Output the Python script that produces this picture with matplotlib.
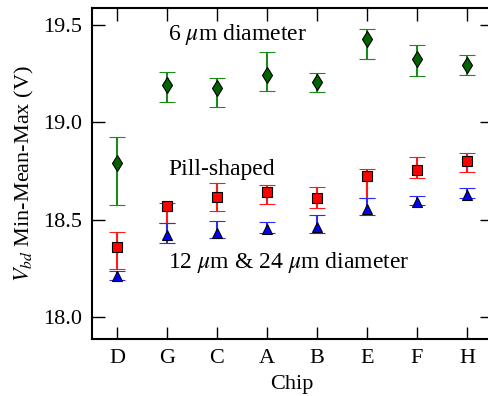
import matplotlib
matplotlib.use("Agg")
import matplotlib.pyplot as plt

plt.rcParams["font.family"] = ["Liberation Serif", "DejaVu Serif"]
plt.rcParams["mathtext.fontset"] = "stix"

chips = ["D", "G", "C", "A", "B", "E", "F", "H"]

# 6 um diameter: mean, min, max
small_mean = [18.79, 19.19, 19.177, 19.244, 19.208, 19.428, 19.326, 19.295]
small_min = [18.577, 19.105, 19.079, 19.162, 19.156, 19.326, 19.238, 19.244]
small_max = [18.926, 19.259, 19.228, 19.362, 19.254, 19.479, 19.397, 19.346]

# pill-shaped
pill_mean = [18.362, 18.572, 18.618, 18.644, 18.61, 18.726, 18.756, 18.803]
pill_min = [18.244, 18.485, 18.546, 18.582, 18.56, 18.613, 18.715, 18.746]
pill_max = [18.438, 18.585, 18.69, 18.679, 18.67, 18.762, 18.823, 18.844]

# 12 um & 24 um diameter
big_mean = [18.213, 18.423, 18.433, 18.454, 18.464, 18.556, 18.592, 18.628]
big_min = [18.192, 18.382, 18.408, 18.433, 18.433, 18.526, 18.577, 18.613]
big_max = [18.238, 18.485, 18.495, 18.49, 18.526, 18.613, 18.623, 18.664]

x = list(range(len(chips)))

fig = plt.figure(figsize=(4.89, 3.96), dpi=100)
ax = fig.add_axes([92 / 489, 1 - 339 / 396, 400 / 489, 331 / 396])


def errs(mean, lo, hi):
    return [[m - l for m, l in zip(mean, lo)], [h - m for m, h in zip(mean, hi)]]


ax.errorbar(x, small_mean, yerr=errs(small_mean, small_min, small_max), fmt="d",
            color="#1a8a1a", mfc="#006400", mec="black", ms=8, mew=0.8,
            capsize=6, elinewidth=1.5, capthick=1.5)
ax.errorbar(x, pill_mean, yerr=errs(pill_mean, pill_min, pill_max), fmt="s",
            color="#ff1a1a", mfc="red", mec="black", ms=7, mew=0.8,
            capsize=6, elinewidth=1.5, capthick=1.5)
ax.errorbar(x, big_mean, yerr=errs(big_mean, big_min, big_max), fmt="^",
            color="#2a2aff", mfc="blue", mec="black", ms=7.5, mew=0.8,
            capsize=6, elinewidth=1.5, capthick=1.5)

ax.text(1.02, 19.45, r"6 $\mu$m diameter", fontsize=17, va="center")
ax.text(1.02, 18.76, "Pill-shaped", fontsize=17, va="center")
ax.text(1.02, 18.282, r"12 $\mu$m & 24 $\mu$m diameter", fontsize=17, va="center")

ax.set_xlim(-0.5, 7.5)
ax.set_ylim(17.887, 19.587)
ax.set_xticks(x)
ax.set_xticklabels(chips)
ax.set_yticks([18.0, 18.5, 19.0, 19.5])
ax.set_yticklabels(["18.0", "18.5", "19.0", "19.5"])
ax.tick_params(direction="in", top=True, right=True, length=9, width=1,
               labelsize=16, pad=7)
for s in ax.spines.values():
    s.set_linewidth(1.5)

ax.set_xlabel("Chip", fontsize=16, labelpad=5)
ax.set_ylabel(r"$V_{bd}$ Min-Mean-Max (V)", fontsize=16, labelpad=5)

fig.savefig("out.png", dpi=100)
